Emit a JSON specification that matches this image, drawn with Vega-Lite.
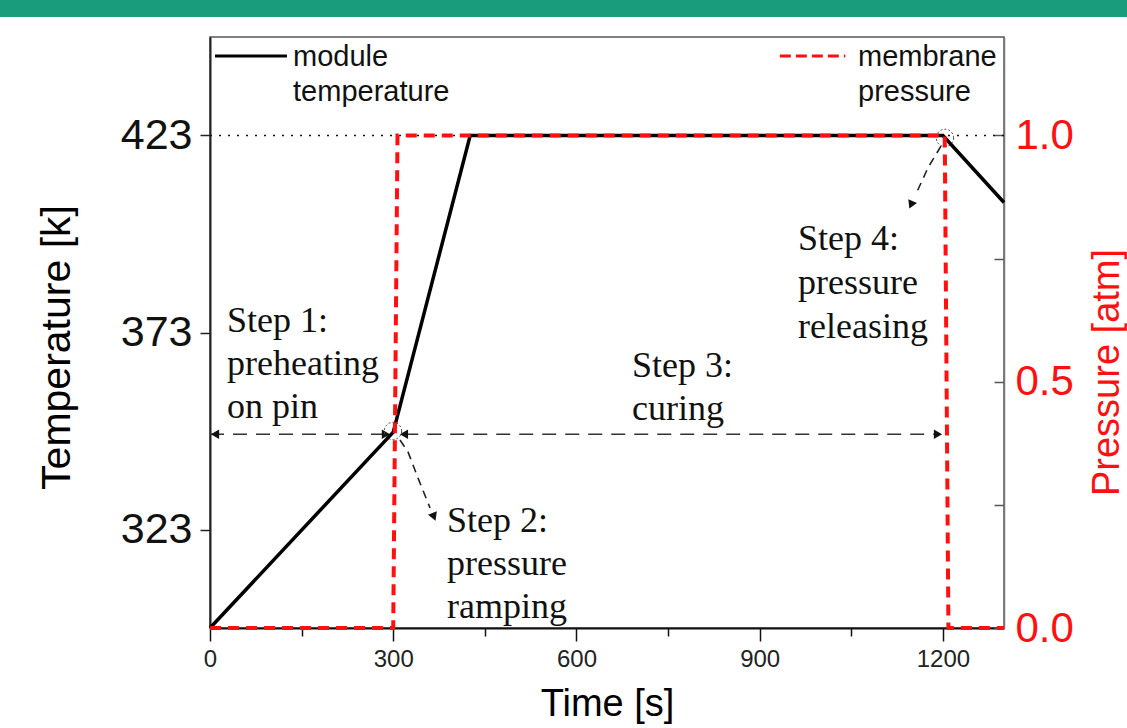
{
  "$schema": "https://vega.github.io/schema/vega-lite/v6.json",
  "width": 794,
  "height": 591,
  "autosize": {"type": "none"},
  "padding": {"left": 210, "top": 37, "right": 123, "bottom": 100},
  "background": "white",
  "config": {
    "view": {"stroke": "#555", "strokeWidth": 1.5},
    "axis": {"grid": false, "labelOverlap": false, "labelBound": false, "labelFlush": false}
  },
  "datasets": {
    "band": [{"t": -400, "t_end": 1700, "T": 453.1, "T_end": 470}],
    "temperature": [
      {"t": 0, "T": 298},
      {"t": 300, "T": 347.7},
      {"t": 426, "T": 423},
      {"t": 1200, "T": 423},
      {"t": 1300, "T": 406}
    ],
    "pressure": [
      {"t": 0, "p": 0},
      {"t": 300, "p": 0},
      {"t": 307, "p": 1},
      {"t": 1203, "p": 1},
      {"t": 1209, "p": 0},
      {"t": 1300, "p": 0}
    ],
    "ref": [{"t": 0, "t_end": 1300, "T": 423}],
    "spans": [
      {"t": 0, "t_end": 288, "T": 347.2},
      {"t": 318, "t_end": 1195, "T": 347.2}
    ],
    "heads": [
      {"kind": "left", "t": 8.2, "T": 347.2},
      {"kind": "right", "t": 288, "T": 347.2},
      {"kind": "left", "t": 317.6, "T": 347.2},
      {"kind": "right", "t": 1191.9, "T": 347.2},
      {"kind": "step2", "t": 366.7, "T": 326.2},
      {"kind": "step4", "t": 1147.7, "T": 405.4}
    ],
    "pointers": [
      {"arrow": "step2", "order": 1, "t": 311.1, "T": 345.7},
      {"arrow": "step2", "order": 2, "t": 324.2, "T": 342.7},
      {"arrow": "step2", "order": 3, "t": 340.5, "T": 336.1},
      {"arrow": "step2", "order": 4, "t": 360.2, "T": 328.5},
      {"arrow": "step4", "order": 1, "t": 1196.8, "T": 420.3},
      {"arrow": "step4", "order": 2, "t": 1175.5, "T": 414.8},
      {"arrow": "step4", "order": 3, "t": 1157.5, "T": 408.7}
    ],
    "circles": [
      {"t": 299.6, "T": 348.0},
      {"t": 1203.3, "T": 422.4}
    ],
    "legendLines": [
      {"series": "module temperature", "t": 8.2, "t_end": 126, "T": 443.2},
      {"series": "membrane pressure", "t": 933, "t_end": 1040, "T": 443.2}
    ],
    "legendText": [
      {"t": 136, "T": 440.6, "text": "module"},
      {"t": 136, "T": 431.8, "text": "temperature"},
      {"t": 1061, "T": 440.6, "text": "membrane"},
      {"t": 1061, "T": 431.8, "text": "pressure"}
    ],
    "notes": [
      {"t": 27.8, "T": 373.2, "text": "Step 1:"},
      {"t": 27.8, "T": 362.3, "text": "preheating"},
      {"t": 27.8, "T": 351.3, "text": "on pin"},
      {"t": 388, "T": 322.4, "text": "Step 2:"},
      {"t": 388, "T": 311.5, "text": "pressure"},
      {"t": 388, "T": 300.5, "text": "ramping"},
      {"t": 691, "T": 361.7, "text": "Step 3:"},
      {"t": 691, "T": 350.8, "text": "curing"},
      {"t": 962.7, "T": 393.9, "text": "Step 4:"},
      {"t": 962.7, "T": 382.8, "text": "pressure"},
      {"t": 962.7, "T": 371.6, "text": "releasing"}
    ]
  },
  "encoding": {
    "x": {
      "field": "t", "type": "quantitative",
      "scale": {"domain": [0, 1300], "nice": false, "zero": false},
      "axis": {
        "title": "Time [s]",
        "values": [0, 150, 300, 450, 600, 750, 900, 1050, 1200],
        "format": "d",
        "labelExpr": "datum.value % 300 === 0 ? datum.label : ''",
        "tickSize": {"condition": {"test": "datum.value % 300 === 0", "value": 13}, "value": 8},
        "tickColor": "#111", "tickWidth": 1.5,
        "domainColor": "#111", "domainWidth": 2,
        "labelFont": "Liberation Sans", "labelFontSize": 24, "labelColor": "#222", "labelPadding": 6,
        "titleFont": "Liberation Sans", "titleFontSize": 38, "titleFontWeight": "normal", "titleColor": "#000", "titlePadding": 14
      }
    }
  },
  "layer": [
    {
      "encoding": {
        "y": {
          "field": "T", "type": "quantitative",
          "scale": {"domain": [298, 448], "nice": false, "zero": false},
          "axis": {
            "orient": "left",
            "title": "Temperature [k]",
            "values": [323, 373, 423],
            "tickSize": 10, "tickColor": "#222", "tickWidth": 1.5,
            "domainColor": "#222", "domainWidth": 2,
            "labelFont": "Liberation Sans", "labelFontSize": 43, "labelColor": "#111", "labelPadding": 8,
            "titleFont": "Liberation Sans", "titleFontSize": 41, "titleFontWeight": "normal", "titleColor": "#000", "titlePadding": 42,
            "titleY": 310
          }
        }
      },
      "layer": [
        {
          "data": {"name": "band"},
          "mark": {"type": "rect", "clip": false, "color": "#189c7c"},
          "encoding": {"x2": {"field": "t_end"}, "y2": {"field": "T_end"}}
        },
        {
          "data": {"name": "ref"},
          "mark": {"type": "rule", "color": "#111", "strokeWidth": 1.6, "strokeDash": [2, 7]},
          "encoding": {"x2": {"field": "t_end"}}
        },
        {
          "data": {"name": "spans"},
          "mark": {"type": "rule", "color": "#333", "strokeWidth": 1.5, "strokeDash": [14, 9]},
          "encoding": {"x2": {"field": "t_end"}}
        },
        {
          "data": {"name": "heads"},
          "transform": [{"filter": "datum.kind === 'left'"}],
          "mark": {"type": "point", "shape": "triangle-left", "filled": true, "color": "#111", "size": 90, "opacity": 1},
          "encoding": {}
        },
        {
          "data": {"name": "heads"},
          "transform": [{"filter": "datum.kind === 'right'"}],
          "mark": {"type": "point", "shape": "triangle-right", "filled": true, "color": "#111", "size": 90, "opacity": 1},
          "encoding": {}
        },
        {
          "data": {"name": "heads"},
          "transform": [{"filter": "datum.kind === 'step2'"}],
          "mark": {"type": "point", "shape": "triangle-down", "filled": true, "color": "#111", "size": 90, "opacity": 1, "angle": -22},
          "encoding": {}
        },
        {
          "data": {"name": "heads"},
          "transform": [{"filter": "datum.kind === 'step4'"}],
          "mark": {"type": "point", "shape": "triangle-down", "filled": true, "color": "#111", "size": 90, "opacity": 1, "angle": 24},
          "encoding": {}
        },
        {
          "data": {"name": "pointers"},
          "mark": {"type": "line", "color": "#222", "strokeWidth": 1.6, "strokeDash": [8, 6]},
          "encoding": {"detail": {"field": "arrow"}, "order": {"field": "order"}}
        },
        {
          "data": {"name": "circles"},
          "mark": {"type": "point", "shape": "circle", "filled": false, "stroke": "#444", "strokeWidth": 1, "strokeDash": [2, 2], "size": 300, "opacity": 1},
          "encoding": {}
        },
        {
          "data": {"name": "temperature"},
          "mark": {"type": "line", "color": "#000", "strokeWidth": 3.5},
          "encoding": {}
        },
        {
          "data": {"name": "legendLines"},
          "mark": {"type": "rule", "strokeWidth": 3},
          "encoding": {
            "x2": {"field": "t_end"},
            "color": {"field": "series", "type": "nominal", "scale": {"domain": ["module temperature", "membrane pressure"], "range": ["#000", "#ff1010"]}, "legend": null},
            "strokeDash": {"field": "series", "type": "nominal", "scale": {"domain": ["module temperature", "membrane pressure"], "range": [[1, 0], [11, 5]]}, "legend": null}
          }
        },
        {
          "data": {"name": "legendText"},
          "mark": {"type": "text", "align": "left", "baseline": "alphabetic", "font": "Liberation Sans", "fontSize": 29, "color": "#111"},
          "encoding": {"text": {"field": "text"}}
        },
        {
          "data": {"name": "notes"},
          "mark": {"type": "text", "align": "left", "baseline": "alphabetic", "font": "Liberation Serif", "fontSize": 36, "color": "#111"},
          "encoding": {"text": {"field": "text"}}
        }
      ]
    },
    {
      "layer": [
        {
          "data": {"name": "pressure"},
          "mark": {"type": "line", "color": "#ff1010", "strokeWidth": 4, "strokeDash": [11, 7]},
          "encoding": {
            "y": {
              "field": "p", "type": "quantitative",
              "scale": {"domain": [0, 1.2], "nice": false, "zero": false},
              "axis": {
                "orient": "right",
                "title": "Pressure [atm]",
                "values": [0, 0.25, 0.5, 0.75, 1],
                "labelExpr": "(datum.value * 4) % 2 === 0 ? format(datum.value, '.1f') : ''",
                "tickSize": -10, "tickColor": "#555", "tickWidth": 1.5,
                "domainColor": "#777", "domainWidth": 1.5,
                "labelFont": "Liberation Sans", "labelFontSize": 42, "labelColor": "#ff1010", "labelPadding": 21,
                "titleFont": "Liberation Sans", "titleFontSize": 38, "titleFontWeight": "normal", "titleColor": "#ff1010",
                "titleAngle": 270, "titleBaseline": "top", "titlePadding": 15,
                "titleY": 335
              }
            }
          }
        }
      ]
    }
  ],
  "resolve": {"scale": {"y": "independent"}, "axis": {"y": "independent"}}
}
